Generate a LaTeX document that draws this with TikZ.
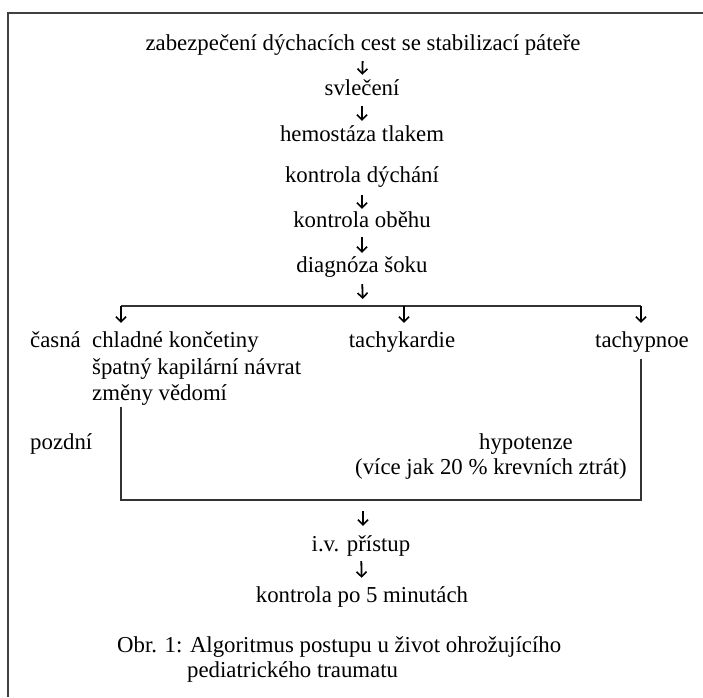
\documentclass[tikz,border=0pt]{standalone}
\usepackage{fontspec}
\setmainfont{Liberation Serif}
\usetikzlibrary{arrows.meta}
\begin{document}
\begin{tikzpicture}[x=1pt,y=-1pt,
  txt/.style={inner sep=0pt,anchor=base,text height=16pt,text depth=5pt,font=\fontsize{22.8}{27}\selectfont},
  txtw/.style={txt,anchor=base west},
  ln/.style={draw=black!80,line width=1.6pt},
  arr/.style={draw=black,line width=1.8pt,-{Straight Barb[length=5pt,width=10pt,line width=1.6pt]}}]
\useasboundingbox (0,0) rectangle (703,697);
% frame (top and left)
\draw[draw=black!75,line width=2pt] (703,13) -- (8,13) -- (8,697);
% main column
\node[txt] (t1) at (363,50) {zabezpečení dýchacích cest se stabilizací páteře};
\node[txt] (t2) at (362,95) {svlečení};
\node[txt] (t3) at (362,141) {hemostáza tlakem};
\node[txt] (t4) at (362,182) {kontrola dýchání};
\node[txt] (t5) at (362,227) {kontrola oběhu};
\node[txt] (t6) at (362,272) {diagnóza šoku};
\draw[arr,shorten <=6pt,shorten >=4pt] (t1) -- (t2);
\draw[arr,shorten <=6pt,shorten >=4pt] (t2) -- (t3);
\draw[arr,shorten <=8pt,shorten >=2pt] (t4) -- (t5);
\draw[arr,shorten <=5pt,shorten >=3pt] (t5) -- (t6);
% branch
\coordinate (bl) at (121,306);
\coordinate (bm) at (363,306);
\coordinate (bc) at (404,306);
\coordinate (br) at (641,306);
\draw[arr,shorten <=7pt,shorten >=7pt] (t6.south) -- (bm);
\draw[ln] (bl) -- (br);
\node[txtw] (ca) at (30,347) {časná};
\node[txtw] (ch) at (92,347) {chladné končetiny};
\node[txtw] (sp) at (92,374) {špatný kapilární návrat};
\node[txtw] (zm) at (92,400) {změny vědomí};
\node[txt] (tk) at (402,347) {tachykardie};
\node[txt] (tp) at (642,347) {tachypnoe};
\draw[arr,shorten >=8pt] (bl) -- (bl |- ch.north);
\draw[arr,shorten >=8pt] (bc) -- (bc |- tk.north);
\draw[arr,shorten >=8pt] (br) -- (br |- tp.north);
% late signs
\node[txtw] (pz) at (30,449) {pozdní};
\node[txt] (hy) at (526,449) {hypotenze};
\node[txt] (vj) at (491,474) {(více jak 20 \% krevních ztrát)};
\coordinate (cl) at (121,500);
\coordinate (cm) at (363,500);
\coordinate (cr) at (641,500);
\draw[ln] (bl |- zm.south) ++(0,2) -- (cl) -- (cr) -- ([yshift=-7pt]cr |- tp.south);
% end
\node[txt] (iv) at (361,551) {i.v. přístup};
\node[txt] (kp) at (362,602) {kontrola po 5 minutách};
\draw[arr,shorten <=11pt,shorten >=9pt] (cm) -- (cm |- iv.north);
\draw[arr,shorten <=5pt,shorten >=8pt] (iv) -- (kp);
% caption
\node[txtw] (ob) at (117,652) {Obr. 1: Algoritmus postupu u život ohrožujícího};
\node[txtw] (pd) at (187,677) {pediatrického traumatu};
\end{tikzpicture}
\end{document}
